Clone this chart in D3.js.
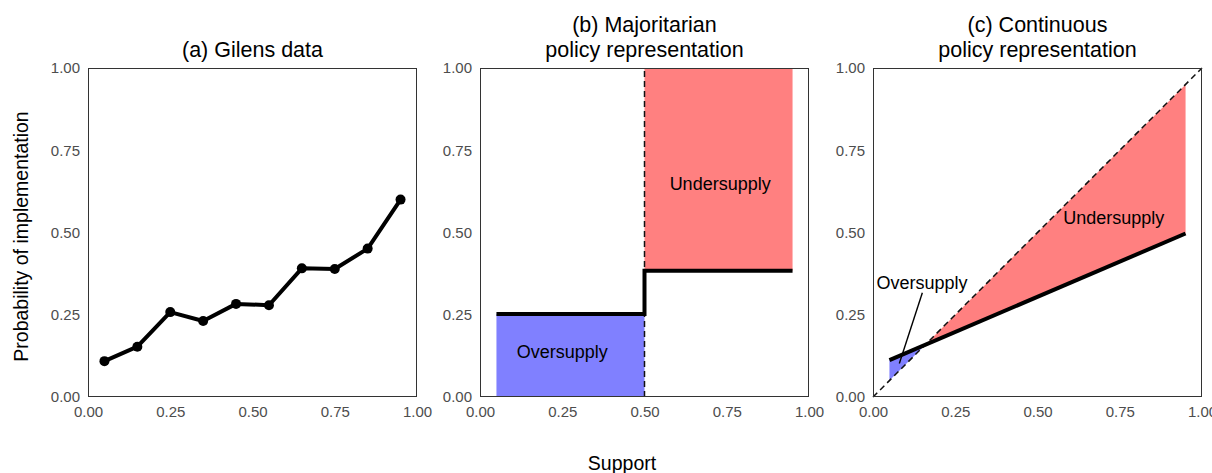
<!DOCTYPE html>
<html>
<head>
<meta charset="utf-8">
<script src="https://cdn.jsdelivr.net/npm/d3@7"></script>
<style>
  html, body { margin: 0; padding: 0; background: #fff; }
  svg { display: block; font-family: "Liberation Sans", Arial, sans-serif; }
</style>
</head>
<body>
<svg id="chart" width="1212" height="473"></svg>
<script>
// ---------------- data ----------------
const tickValues = [0, 0.25, 0.5, 0.75, 1];
const tickLabels = ["0.00", "0.25", "0.50", "0.75", "1.00"];

// (a) Gilens data
const gilensSupport = [0.05, 0.15, 0.25, 0.35, 0.45, 0.55, 0.65, 0.75, 0.85, 0.95];
const gilensProb    = [0.109, 0.153, 0.258, 0.231, 0.283, 0.279, 0.391, 0.389, 0.451, 0.600];

// (b) Majoritarian step
const stepSupport = [0.05, 0.5, 0.95];
const stepProb    = [0.252, 0.384, 0.384];
const majorityCut = 0.5;

// (c) Continuous fit
const fitSupport = [0.05, 0.95];
const fitProb    = [0.112, 0.497];

const panelTitles = [
  ["(a) Gilens data"],
  ["(b) Majoritarian", "policy representation"],
  ["(c) Continuous", "policy representation"]
];
const annotations = {
  bOver:  {x: 0.25, y: 0.138, text: "Oversupply"},
  bUnder: {x: 0.73, y: 0.65,  text: "Undersupply"},
  cOver:  {x: 0.149, y: 0.347, text: "Oversupply"},
  cUnder: {x: 0.732, y: 0.547, text: "Undersupply"}
};
const cPointer = {x1: 0.150, y1: 0.317, x2: 0.080, y2: 0.102};

// ---------------- layout ----------------
const svg = d3.select("#chart");
const panelLefts = [88, 480, 873];
const panelSize = 329;
const plotTop = 68, plotBottom = plotTop + panelSize;
const RED = "#FF8080", BLUE = "#8080FF";
const tickColor = "#4d4d4d";
const DASH = "6,4", DASHW = 1.5;

function makePanel(i) {
  const left = panelLefts[i];
  const x = d3.scaleLinear().domain([0, 1]).range([left, left + panelSize]);
  const y = d3.scaleLinear().domain([0, 1]).range([plotBottom, plotTop]);
  const g = svg.append("g");
  return {g, x, y, left};
}

function drawFrame(p, i) {
  const {g, x, y, left} = p;
  const xAxis = d3.axisBottom(x).tickValues(tickValues)
    .tickFormat((d, k) => tickLabels[k]).tickSize(0).tickPadding(9);
  const yAxis = d3.axisLeft(y).tickValues(tickValues)
    .tickFormat((d, k) => tickLabels[k]).tickSize(0).tickPadding(8);
  const gx = g.append("g").attr("transform", `translate(0,${plotBottom})`).call(xAxis);
  const gy = g.append("g").attr("transform", `translate(${left},0)`).call(yAxis);
  [gx, gy].forEach(a => {
    a.select(".domain").remove();
    a.selectAll("text").attr("fill", tickColor)
      .style("font-size", "15px")
      .style("font-family", "'Liberation Sans', Arial, sans-serif");
  });
  gx.selectAll("text").attr("dy", "0.72em");
  g.append("rect")
    .attr("x", left + 0.5).attr("y", plotTop + 0.5)
    .attr("width", panelSize - 1).attr("height", panelSize - 1)
    .attr("fill", "none").attr("stroke", "#333").attr("stroke-width", 1);
  const lines = panelTitles[i];
  const cx = left + panelSize / 2;
  const baseY = 56.5;
  lines.forEach((t, k) => {
    g.append("text")
      .attr("x", cx)
      .attr("y", baseY - (lines.length - 1 - k) * 25)
      .attr("text-anchor", "middle")
      .style("font-size", "21.5px")
      .attr("fill", "#000")
      .text(t);
  });
}

function label(p, a) {
  p.g.append("text")
    .attr("x", p.x(a.x)).attr("y", p.y(a.y))
    .attr("dy", "0.36em")
    .attr("text-anchor", "middle")
    .style("font-size", "18px")
    .attr("fill", "#000")
    .text(a.text);
}

// ---------------- panel (a) ----------------
const pa = makePanel(0);
const gilens = gilensSupport.map((s, i) => ({s, p: gilensProb[i]}));
pa.g.append("path")
  .datum(gilens)
  .attr("d", d3.line().x(d => pa.x(d.s)).y(d => pa.y(d.p)))
  .attr("fill", "none").attr("stroke", "#000")
  .attr("stroke-width", 4).attr("stroke-linejoin", "round");
pa.g.selectAll("circle").data(gilens).join("circle")
  .attr("cx", d => pa.x(d.s)).attr("cy", d => pa.y(d.p))
  .attr("r", 5).attr("fill", "#000");
drawFrame(pa, 0);

// ---------------- panel (b) ----------------
const pb = makePanel(1);
pb.g.append("rect")
  .attr("x", pb.x(stepSupport[0])).attr("y", pb.y(stepProb[0]))
  .attr("width", pb.x(majorityCut) - pb.x(stepSupport[0]))
  .attr("height", pb.y(0) - pb.y(stepProb[0]))
  .attr("fill", BLUE);
pb.g.append("rect")
  .attr("x", pb.x(majorityCut)).attr("y", pb.y(1))
  .attr("width", pb.x(stepSupport[2]) - pb.x(majorityCut))
  .attr("height", pb.y(stepProb[1]) - pb.y(1))
  .attr("fill", RED);
pb.g.append("line")
  .attr("x1", pb.x(majorityCut)).attr("x2", pb.x(majorityCut))
  .attr("y1", pb.y(0)).attr("y2", pb.y(1))
  .attr("stroke", "#111").attr("stroke-width", DASHW)
  .attr("stroke-dasharray", DASH);
const steps = stepSupport.map((s, i) => ({s, p: stepProb[i]}));
pb.g.append("path")
  .datum(steps)
  .attr("d", d3.line().x(d => pb.x(d.s)).y(d => pb.y(d.p)).curve(d3.curveStepAfter))
  .attr("fill", "none").attr("stroke", "#000").attr("stroke-width", 4)
  .attr("stroke-linejoin", "miter");
label(pb, annotations.bOver);
label(pb, annotations.bUnder);
drawFrame(pb, 1);

// ---------------- panel (c) ----------------
const pc = makePanel(2);
const slope = (fitProb[1] - fitProb[0]) / (fitSupport[1] - fitSupport[0]);
const icpt = fitProb[0] - slope * fitSupport[0];
const fit = s => icpt + slope * s;
const cross = icpt / (1 - slope);
const area = d3.area().x(d => pc.x(d)).y0(d => pc.y(d)).y1(d => pc.y(fit(d)));
pc.g.append("path").datum([fitSupport[0], cross]).attr("d", area).attr("fill", BLUE);
pc.g.append("path").datum([cross, fitSupport[1]]).attr("d", area).attr("fill", RED);
pc.g.append("line")
  .attr("x1", pc.x(0)).attr("y1", pc.y(0)).attr("x2", pc.x(1)).attr("y2", pc.y(1))
  .attr("stroke", "#111").attr("stroke-width", DASHW)
  .attr("stroke-dasharray", DASH);
pc.g.append("path")
  .datum(fitSupport.map((s, i) => ({s, p: fitProb[i]})))
  .attr("d", d3.line().x(d => pc.x(d.s)).y(d => pc.y(d.p)))
  .attr("fill", "none").attr("stroke", "#000").attr("stroke-width", 4);
pc.g.append("line")
  .attr("x1", pc.x(cPointer.x1)).attr("y1", pc.y(cPointer.y1))
  .attr("x2", pc.x(cPointer.x2)).attr("y2", pc.y(cPointer.y2))
  .attr("stroke", "#000").attr("stroke-width", 1.4);
label(pc, annotations.cOver);
label(pc, annotations.cUnder);
drawFrame(pc, 2);

// ---------------- shared axis titles ----------------
svg.append("text")
  .attr("x", 622).attr("y", 469.5)
  .attr("text-anchor", "middle")
  .style("font-size", "19.5px").attr("fill", "#000")
  .text("Support");
svg.append("text")
  .attr("transform", `translate(27.5,${(plotTop + plotBottom) / 2 + 4}) rotate(-90)`)
  .attr("text-anchor", "middle")
  .style("font-size", "19.5px").attr("fill", "#000")
  .text("Probability of implementation");
</script>
</body>
</html>
